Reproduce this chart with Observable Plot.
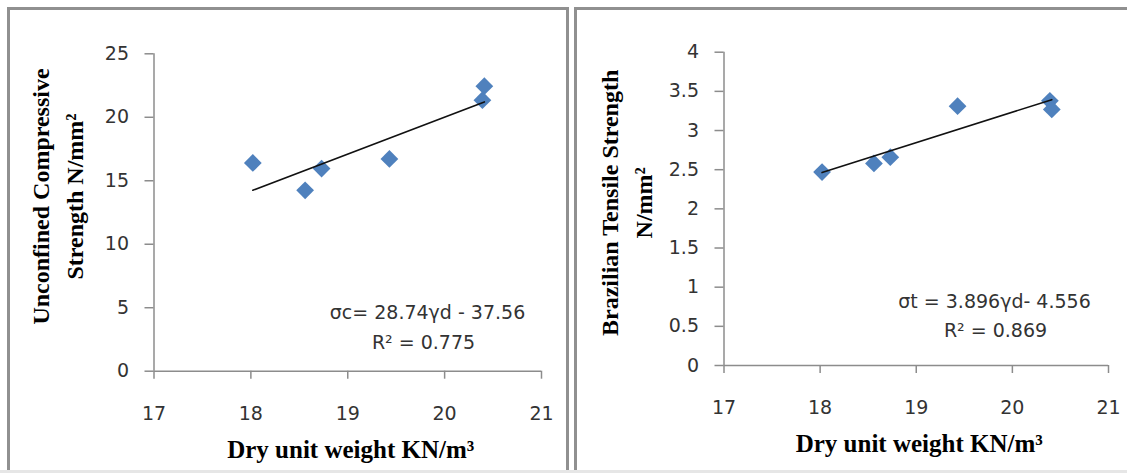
<!DOCTYPE html>
<html><head><meta charset="utf-8">
<script src="https://cdn.jsdelivr.net/npm/d3@7"></script>
<script src="https://cdn.jsdelivr.net/npm/@observablehq/plot@0.6"></script>
<style>
body{margin:0;width:1127px;height:473px;overflow:hidden;background:#fff;position:relative}
.frame{position:absolute;border:3px solid #909090;box-sizing:border-box}
.panel{position:absolute;top:0}
.panel svg{background:none !important;max-width:none !important}
.band{position:absolute;left:0;top:470px;width:1127px;height:3px;background:#e6e6e6}
</style></head><body>
<div class="frame" style="left:7px;top:7px;width:562px;height:480px"></div>
<div class="frame" style="left:574px;top:7px;width:600px;height:480px"></div>
<div class="band"></div>
<div id="left" class="panel" style="left:0"></div>
<div id="right" class="panel" style="left:570px"></div>
<script>
// Data
const dryUnitWeight = [18.02, 18.56, 18.73, 19.43, 20.39, 20.41];
const ucsValues = [16.4, 14.25, 15.96, 16.72, 21.35, 22.45];
const btsValues = [2.47, 2.58, 2.66, 3.31, 3.38, 3.27];
const xTicks = [17, 18, 19, 20, 21];
const ucsTicks = [0, 5, 10, 15, 20, 25];
const btsTicks = [0, 0.5, 1, 1.5, 2, 2.5, 3, 3.5, 4];
const xTitle = "Dry unit weight KN/m³";
const ucsTitle = "Unconfined Compressive\nStrength N/mm²";
const btsTitle = "Brazilian Tensile Strength\nN/mm²";
const ucsEquation = ["σc= 28.74γd - 37.56", "R² = 0.775"];
const btsEquation = ["σt = 3.896γd- 4.556", "R² = 0.869"];

function panel(cfg) {
  const data = dryUnitWeight.map((x, i) => ({x, y: cfg.values[i]}));
  const axisGray = "#8c8c8c";
  const label = "#333";
  return Plot.plot({
    width: cfg.width, height: 473,
    marginLeft: 153.5, marginRight: cfg.marginRight,
    marginTop: cfg.marginTop, marginBottom: cfg.marginBottom,
    style: {fontFamily: "DejaVu Sans", fontSize: "19px", background: "none", overflow: "visible"},
    x: {domain: [17, 21]},
    y: {domain: cfg.domain},
    marks: [
      Plot.axisX({ticks: xTicks, tickSize: 8, tickPadding: 27, stroke: axisGray, fill: label, strokeWidth: 1.5, label: null, tickFormat: d => String(d)}),
      Plot.axisY({ticks: cfg.ticks, tickSize: 9, tickPadding: 16, stroke: axisGray, fill: label, strokeWidth: 1.5, label: null, tickFormat: d => String(d)}),
      Plot.ruleY([cfg.domain[0]], {stroke: axisGray, strokeWidth: 1.5}),
      Plot.ruleX([17], {stroke: axisGray, strokeWidth: 1.5}),
      Plot.dot(data, {x: "x", y: "y", symbol: "diamond2", r: 8, fill: "#4F81BD", stroke: "none"}),
      Plot.linearRegressionY(data, {x: "x", y: "y", stroke: "#111", strokeWidth: 1.6, ci: 0}),
      Plot.text([cfg.equation[0]], {frameAnchor: "bottom-right", dx: -114, dy: cfg.eqDy[0], text: d => d, textAnchor: "middle", fill: label, fontSize: 19}),
      Plot.text([cfg.equation[1]], {frameAnchor: "bottom-right", dx: cfg.eqDx2, dy: cfg.eqDy[1], text: d => d, textAnchor: "middle", fill: label, fontSize: 19}),
      Plot.text([cfg.title], {frameAnchor: "left", dx: cfg.titleDx, dy: cfg.titleDy, rotate: -90, text: d => d, textAnchor: "middle", lineHeight: 1.4, fontFamily: "Liberation Serif", fontWeight: "bold", fontSize: 24, fill: "#000"}),
      Plot.text([xTitle], {frameAnchor: "bottom", dx: 3, dy: 86.5, lineAnchor: "bottom", text: d => d, textAnchor: "middle", fontFamily: "Liberation Serif", fontWeight: "bold", fontSize: 25, fill: "#000"})
    ]
  });
}

document.getElementById("left").append(panel({
  width: 570, marginRight: 29, marginTop: 53.3, marginBottom: 102.3,
  values: ucsValues, domain: [0, 25], ticks: ucsTicks,
  equation: ucsEquation, eqDy: [-52.7, -22.7], eqDx2: -118,
  title: ucsTitle, titleDx: -98.5, titleDy: -16
}));
document.getElementById("right").append(panel({
  width: 557, marginRight: 19, marginTop: 51.7, marginBottom: 108,
  values: btsValues, domain: [0, 4], ticks: btsTicks,
  equation: btsEquation, eqDy: [-57.5, -28.5], eqDx2: -113,
  title: btsTitle, titleDx: -100, titleDy: -6
}));
</script>
</body></html>
